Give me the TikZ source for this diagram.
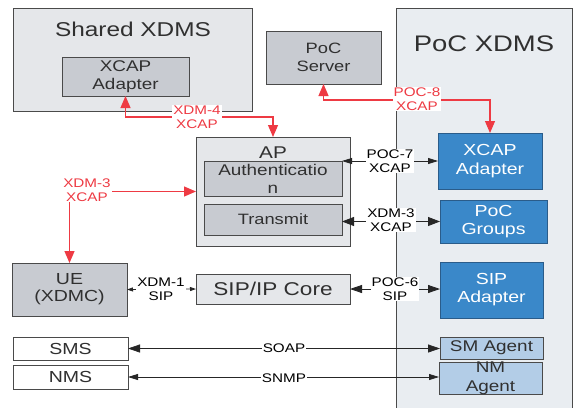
\documentclass[tikz,border=0pt]{standalone}
\usepackage{fontspec}
\setmainfont[FakeStretch=1.22]{Liberation Sans}
\usetikzlibrary{arrows.meta}

\definecolor{boxline}{HTML}{4A4A4A}
\definecolor{paleG}{HTML}{E5E7EA}
\definecolor{midG}{HTML}{C8CBD1}
\definecolor{paleB}{HTML}{E9EDF1}
\definecolor{blueA}{HTML}{3A88C9}
\definecolor{blueEdge}{HTML}{2A5C8A}
\definecolor{lightB}{HTML}{B3CDE7}
\definecolor{redL}{HTML}{EE3A43}
\definecolor{textG}{HTML}{303030}

\newcommand{\fs}[2]{\fontsize{#1}{#2}\selectfont}

\tikzset{
  box/.style={draw=boxline, line width=0.9pt, inner sep=0pt, outer sep=0pt,
              align=center, text=textG},
  container/.style={box, fill=paleG},
  graybox/.style={box, fill=midG},
  bluebox/.style={box, fill=blueA, draw=blueEdge, text=white},
  lightbox/.style={box, fill=lightB},
  plainbox/.style={box, fill=white},
  lbl/.style={fill=white, inner sep=1pt, align=center, text=black, font=\fs{12.5}{14}},
  redlbl/.style={lbl, text=redL},
  redcon/.style={draw=redL, line width=1.1pt,
                 {Triangle[length=12pt,width=10pt]}-{Triangle[length=12pt,width=10pt]}},
  blackcon/.style={draw=black!85, line width=0.8pt},
}

\begin{document}
\begin{tikzpicture}[x=1pt,y=-1pt]
\useasboundingbox (0,0) rectangle (577,407);
\fill[white] (0,0) rectangle (577,407);

% containers
\node[container, minimum width=239pt, minimum height=103pt] (sx) at (132.5,59.5) {};
\node[text=textG, font=\fs{20}{22}] (sxt) at (133,29) {Shared XDMS};
\node[box, fill=paleB, minimum width=176pt, minimum height=410pt, anchor=north west] (px) at (396,8) {};
\node[text=textG, font=\fs{22.5}{24}] (pxt) at (484,44) {PoC XDMS};

% boxes
\node[graybox, minimum width=127pt, minimum height=39pt, font=\fs{15.5}{18}] (sxa) at (125.5,76.5) {XCAP\\Adapter};
\node[graybox, minimum width=115pt, minimum height=53pt, font=\fs{15}{18}] (ps) at (323.5,57.5) {PoC\\Server};

\node[container, minimum width=154pt, minimum height=109pt] (ap) at (273,191.5) {};
\node[text=textG, font=\fs{17}{18}] (apt) at (273,153) {AP};
\node[graybox, minimum width=138pt, minimum height=35pt, font=\fs{15.5}{18}] (auth) at (273,178.5) {Authenticatio\\n};
\node[graybox, minimum width=138pt, minimum height=31pt, font=\fs{15}{18}] (tr) at (273,219.5) {Transmit};
\node[container, minimum width=154pt, minimum height=30pt, font=\fs{18.5}{20}] (core) at (273,289) {SIP/IP Core};

\node[graybox, minimum width=115pt, minimum height=53pt, font=\fs{16}{17}] (ue) at (69.5,289.5) {UE\\(XDMC)};
\node[plainbox, minimum width=115pt, minimum height=23pt, font=\fs{16}{18}] (sms) at (70.5,348.5) {SMS};
\node[plainbox, minimum width=115pt, minimum height=24pt, font=\fs{16}{18}] (nms) at (70.5,377) {NMS};

\node[bluebox, minimum width=104pt, minimum height=56pt, font=\fs{16}{19}] (xa) at (490,161) {XCAP\\Adapter};
\node[bluebox, minimum width=107pt, minimum height=43pt, font=\fs{16}{18}] (pg) at (493.5,221.5) {PoC\\Groups};
\node[bluebox, minimum width=103pt, minimum height=56pt, font=\fs{16}{18}] (sa) at (491.5,290) {SIP\\Adapter};
\node[lightbox, minimum width=103pt, minimum height=22pt, font=\fs{15.5}{18}] (sm) at (491.5,348) {SM Agent};
\node[lightbox, minimum width=103pt, minimum height=21pt, font=\fs{15.5}{19}] (nm) at (490.5,378.5) {NM\\Agent};

% red XCAP connectors
\coordinate (k4) at (125.5,117);
\coordinate (k8) at (323.5,100);
\draw[redcon] (sxa.south) -- (k4) -| (ap.north);
\draw[redcon] (ps.south) -- (k8) -| (xa.north);
\draw[redcon] (ue.north) |- (ap.west);
\node[redlbl] (l4) at (197,117) {XDM-4\\XCAP};
\node[redlbl] (l8) at (417,99) {POC-8\\XCAP};
\node[redlbl] (l3) at (87,190) {XDM-3\\XCAP};

% black connectors
\draw[blackcon, {Triangle[length=10pt,width=6pt]}-{Triangle[length=10pt,width=6pt]}]
  (auth.east |- xa.west) -- (xa.west);
\draw[blackcon, {Triangle[length=12pt,width=9pt]}-{Triangle[length=12pt,width=9pt]}]
  (tr.east |- pg.west) -- (pg.west);
\draw[blackcon, {Triangle[length=6pt,width=4pt]}-{Triangle[length=6pt,width=4pt]}]
  (ue.east) -- (core.west);
\draw[blackcon, {Triangle[length=12pt,width=8pt]}-{Triangle[length=12pt,width=8pt]}]
  (core.east) -- (core.east -| sa.west);
\draw[blackcon, {Triangle[length=12pt,width=8pt]}-{Triangle[length=12pt,width=8pt]}]
  (sms.east) -- (sms.east -| sm.west);
\draw[blackcon, {Triangle[length=10pt,width=6pt]}-{Triangle[length=10pt,width=6pt]}]
  (nms.east) -- (nms.east -| nm.west);

\node[lbl] (l7) at (390,161) {POC-7\\XCAP};
\node[lbl] (l3b) at (391,220) {XDM-3\\XCAP};
\node[lbl] (l1) at (161,289) {XDM-1\\SIP};
\node[lbl] (l6) at (395,289) {POC-6\\SIP};
\node[lbl, inner sep=0.5pt] (lsoap) at (284,348) {SOAP};
\node[lbl, inner sep=0.5pt] (lsnmp) at (284,378) {SNMP};
\end{tikzpicture}
\end{document}
